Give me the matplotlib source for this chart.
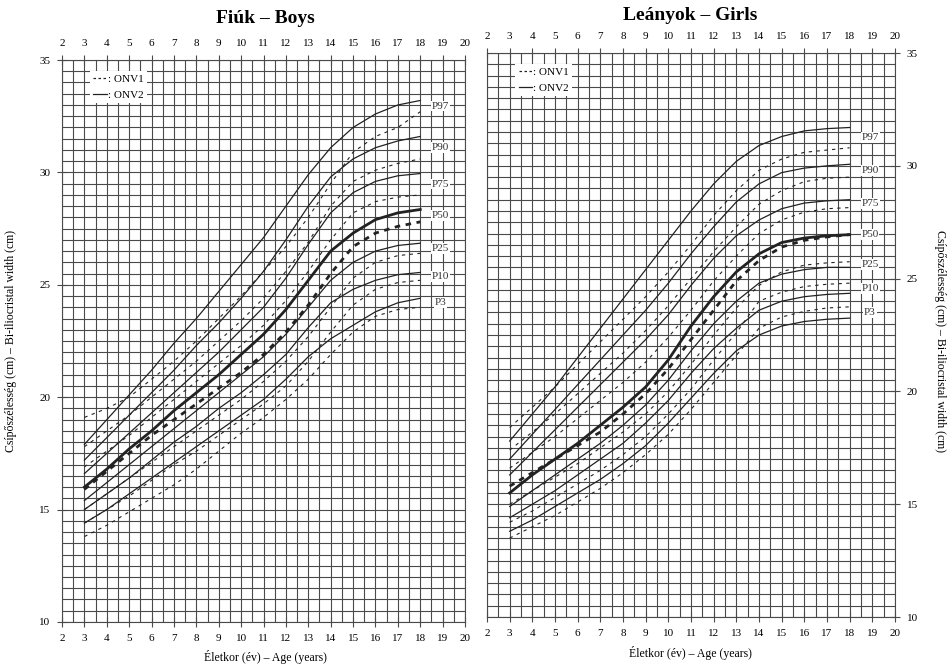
import numpy as np
import matplotlib
matplotlib.use('Agg')
import matplotlib.pyplot as plt
from matplotlib.lines import Line2D

plt.rcParams['font.family'] = ['Liberation Serif', 'DejaVu Serif']

# életkor (év)
ages = [3, 4, 5, 6, 7, 8, 9, 10, 11, 12, 13, 14, 15, 16, 17, 18]
percentiles = ['P97', 'P90', 'P75', 'P50', 'P25', 'P10', 'P3']

# Fiúk - ONV2 (folytonos)
boys_p97_onv2 = [17.9, 19.0, 20.1, 21.2, 22.4, 23.5, 24.7, 25.9, 27.1, 28.5, 29.9, 31.1, 32.0, 32.6, 33.0, 33.2]
boys_p90_onv2 = [17.2, 18.2, 19.2, 20.2, 21.2, 22.3, 23.3, 24.4, 25.6, 27.0, 28.5, 29.8, 30.6, 31.1, 31.4, 31.6]
boys_p75_onv2 = [16.6, 17.5, 18.4, 19.3, 20.2, 21.1, 22.0, 23.0, 24.0, 25.3, 26.8, 28.2, 29.1, 29.6, 29.85, 29.95]
boys_p50_onv2 = [16.0, 16.8, 17.7, 18.5, 19.4, 20.2, 21.0, 21.9, 22.8, 23.9, 25.2, 26.5, 27.3, 27.9, 28.2, 28.35]
boys_p25_onv2 = [15.4, 16.2, 17.0, 17.8, 18.6, 19.4, 20.2, 21.0, 21.8, 22.8, 24.0, 25.2, 26.0, 26.5, 26.75, 26.85]
boys_p10_onv2 = [15.0, 15.7, 16.4, 17.2, 18.0, 18.7, 19.5, 20.2, 21.0, 21.9, 23.1, 24.2, 24.8, 25.2, 25.45, 25.55]
boys_p3_onv2 = [14.4, 15.0, 15.7, 16.4, 17.1, 17.8, 18.5, 19.2, 19.9, 20.8, 21.8, 22.6, 23.2, 23.8, 24.2, 24.4]

# Fiúk - ONV1 (szaggatott)
boys_p97_onv1 = [19.1, 19.5, 20.0, 20.8, 21.6, 22.5, 23.5, 24.5, 25.6, 26.7, 28.0, 29.5, 30.9, 31.6, 32.0, 32.7]
boys_p90_onv1 = [17.8, 18.5, 19.2, 20.0, 20.8, 21.6, 22.5, 23.4, 24.4, 25.6, 26.9, 28.5, 29.6, 30.1, 30.4, 30.6]
boys_p75_onv1 = [16.9, 17.6, 18.3, 19.1, 19.9, 20.7, 21.5, 22.3, 23.2, 24.3, 25.6, 27.0, 28.2, 28.7, 28.9, 29.0]
boys_p50_onv1 = [15.9, 16.7, 17.5, 18.3, 19.0, 19.7, 20.4, 21.1, 21.9, 22.9, 24.1, 25.5, 26.7, 27.3, 27.6, 27.8]
boys_p25_onv1 = [15.0, 15.7, 16.4, 17.1, 17.8, 18.5, 19.2, 19.9, 20.7, 21.6, 22.7, 24.0, 25.3, 26.0, 26.3, 26.4]
boys_p10_onv1 = [14.4, 15.0, 15.6, 16.3, 17.0, 17.6, 18.3, 19.0, 19.7, 20.5, 21.6, 22.9, 24.1, 24.8, 25.1, 25.2]
boys_p3_onv1 = [13.8, 14.3, 14.9, 15.5, 16.1, 16.8, 17.6, 18.4, 19.1, 19.9, 20.8, 21.9, 22.9, 23.6, 23.9, 24.0]

# Leányok - ONV2 (folytonos)
girls_p97_onv2 = [17.8, 19.0, 20.2, 21.5, 22.8, 24.1, 25.4, 26.7, 28.0, 29.2, 30.2, 30.9, 31.3, 31.55, 31.65, 31.7]
girls_p90_onv2 = [17.0, 18.1, 19.2, 20.3, 21.4, 22.5, 23.6, 24.8, 26.1, 27.3, 28.4, 29.2, 29.7, 29.9, 30.0, 30.07]
girls_p75_onv2 = [16.3, 17.3, 18.3, 19.3, 20.3, 21.3, 22.3, 23.4, 24.7, 25.9, 26.9, 27.6, 28.1, 28.35, 28.45, 28.5]
girls_p50_onv2 = [15.5, 16.3, 17.0, 17.7, 18.5, 19.3, 20.2, 21.4, 22.9, 24.2, 25.3, 26.1, 26.6, 26.8, 26.9, 26.95]
girls_p25_onv2 = [14.9, 15.6, 16.3, 17.0, 17.7, 18.5, 19.4, 20.5, 21.8, 23.0, 24.0, 24.8, 25.2, 25.4, 25.5, 25.5]
girls_p10_onv2 = [14.4, 15.0, 15.6, 16.3, 17.0, 17.7, 18.6, 19.6, 20.8, 21.9, 22.8, 23.6, 24.0, 24.2, 24.3, 24.35]
girls_p3_onv2 = [13.8, 14.3, 14.9, 15.5, 16.1, 16.8, 17.6, 18.6, 19.7, 20.8, 21.8, 22.5, 22.9, 23.1, 23.2, 23.25]

# Leányok - ONV1 (szaggatott)
girls_p97_onv1 = [18.4, 19.3, 20.2, 21.2, 22.2, 23.2, 24.2, 25.3, 26.5, 27.8, 28.9, 29.8, 30.3, 30.6, 30.7, 30.8]
girls_p90_onv1 = [17.4, 18.2, 19.0, 19.9, 20.8, 21.7, 22.7, 23.8, 25.0, 26.2, 27.3, 28.3, 28.9, 29.3, 29.45, 29.5]
girls_p75_onv1 = [16.6, 17.3, 18.0, 18.8, 19.6, 20.4, 21.3, 22.4, 23.6, 24.9, 26.0, 27.0, 27.6, 27.95, 28.1, 28.15]
girls_p50_onv1 = [15.8, 16.4, 17.0, 17.6, 18.2, 19.0, 19.9, 21.0, 22.3, 23.6, 24.9, 25.8, 26.4, 26.7, 26.85, 26.95]
girls_p25_onv1 = [15.0, 15.6, 16.2, 16.8, 17.5, 18.2, 19.0, 20.0, 21.2, 22.5, 23.7, 24.7, 25.3, 25.6, 25.7, 25.75]
girls_p10_onv1 = [14.2, 14.7, 15.3, 15.9, 16.5, 17.2, 18.0, 19.0, 20.1, 21.4, 22.6, 24.0, 24.4, 24.65, 24.75, 24.8]
girls_p3_onv1 = [13.5, 14.0, 14.5, 15.1, 15.7, 16.4, 17.2, 18.1, 19.2, 20.4, 21.6, 22.8, 23.3, 23.55, 23.7, 23.75]

boys_onv2 = [boys_p97_onv2, boys_p90_onv2, boys_p75_onv2, boys_p50_onv2, boys_p25_onv2, boys_p10_onv2, boys_p3_onv2]
boys_onv1 = [boys_p97_onv1, boys_p90_onv1, boys_p75_onv1, boys_p50_onv1, boys_p25_onv1, boys_p10_onv1, boys_p3_onv1]
girls_onv2 = [girls_p97_onv2, girls_p90_onv2, girls_p75_onv2, girls_p50_onv2, girls_p25_onv2, girls_p10_onv2, girls_p3_onv2]
girls_onv1 = [girls_p97_onv1, girls_p90_onv1, girls_p75_onv1, girls_p50_onv1, girls_p25_onv1, girls_p10_onv1, girls_p3_onv1]

ink = '#222222'
grid_col = '#4a4a4a'

fig = plt.figure(figsize=(9.51, 6.69), dpi=100)
ax_b = fig.add_axes([0.0652, 0.0703, 0.4238, 0.840])
ax_g = fig.add_axes([0.5121, 0.0777, 0.429, 0.843])


def draw_panel(ax, onv1, onv2, right_side):
    ax.set_xlim(2, 20)
    ax.set_ylim(10, 35)
    ax.set_xticks(range(2, 21))
    ax.set_xticks(np.arange(2, 20.01, 0.5), minor=True)
    ax.set_yticks(range(10, 36, 5))
    ax.set_yticks(np.arange(10, 35.01, 0.5), minor=True)
    ax.grid(which='both', color=grid_col, lw=0.8, zorder=1)
    for sp in ax.spines.values():
        sp.set_color(grid_col)
        sp.set_linewidth(0.8)
    ax.tick_params(which='major', direction='inout', length=7, width=0.8, color=grid_col,
                   labelsize=8, pad=5, top=True, labeltop=True, bottom=True, labelbottom=True)
    ax.tick_params(which='minor', length=0)
    if right_side:
        ax.tick_params(axis='y', left=False, labelleft=False, right=True, labelright=True)
    else:
        ax.tick_params(axis='y', left=True, labelleft=True, right=False, labelright=False)

    for name, v1, v2 in zip(percentiles, onv1, onv2):
        thick = name == 'P50'
        ax.plot(ages, v2, color=ink, lw=2.0 if thick else 0.9, zorder=3)
        ax.plot(ages, v1, color=ink, lw=2.0 if thick else 0.8,
                ls=(0, (2, 2)) if thick else (0, (3, 4)), zorder=3)
        ax.text(18.9, (v1[-1] + v2[-1]) / 2, name, ha='center', va='center', fontsize=8,
                color='#333333', bbox=dict(fc='white', ec='none', pad=0.6), zorder=4)

    handles = [Line2D([], [], color=ink, lw=0.9, ls=(0, (2, 2))),
               Line2D([], [], color=ink, lw=0.9)]
    leg = ax.legend(handles, [': ONV1', ': ONV2'], loc='upper left',
                    bbox_to_anchor=(3.0, 34.75), bbox_transform=ax.transData,
                    fontsize=8, handlelength=1.2, handletextpad=0.1,
                    borderpad=0.3, labelspacing=0.5, fancybox=False,
                    framealpha=1, edgecolor='none')
    leg.set_zorder(5)


draw_panel(ax_b, boys_onv1, boys_onv2, False)
draw_panel(ax_g, girls_onv1, girls_onv2, True)

fig.text(0.279, 0.972, 'Fiúk – Boys', ha='center', va='center', fontsize=14, fontweight='bold')
fig.text(0.7256, 0.977, 'Leányok – Girls', ha='center', va='center', fontsize=14, fontweight='bold')
fig.text(0.279, 0.018, 'Életkor (év) – Age (years)', ha='center', va='center', fontsize=8.5)
fig.text(0.7256, 0.024, 'Életkor (év) – Age (years)', ha='center', va='center', fontsize=8.5)
fig.text(0.012, 0.49, 'Csípőszélesség (cm) – Bi-iliocristal width (cm)', ha='center', va='center',
         rotation=90, fontsize=8.5)
fig.text(0.988, 0.49, 'Csípőszélesség (cm) – Bi-iliocristal width (cm)', ha='center', va='center',
         rotation=270, fontsize=8.5)

fig.savefig('out.png', dpi=100)
